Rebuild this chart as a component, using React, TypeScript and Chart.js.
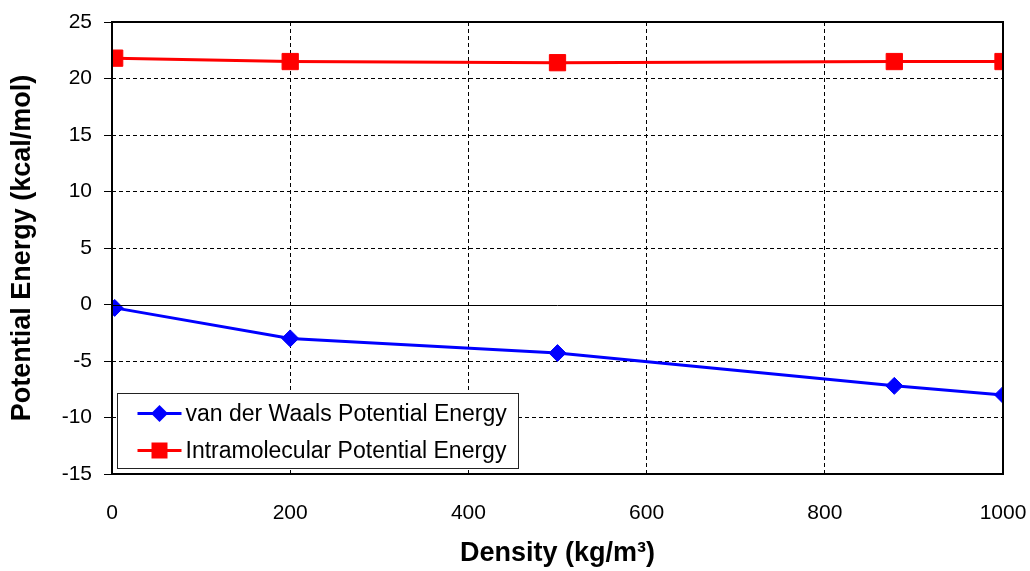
import React, { useEffect, useRef } from "react";
import { Chart, registerables } from "chart.js";

Chart.register(...registerables);

const densityVdw = [3, 200, 500, 878, 1000];
const vdwEnergy = [-0.3, -3.0, -4.3, -7.2, -8.0];
const densityIntra = [3, 200, 500, 878, 1000];
const intraEnergy = [21.8, 21.5, 21.4, 21.5, 21.5];
const seriesLabels = ["van der Waals Potential Energy", "Intramolecular Potential Energy"];
const xTitle = "Density (kg/m³)";
const yTitle = "Potential Energy (kcal/mol)";

const FONT = "'Liberation Sans', Arial, sans-serif";

const framePlugin = {
  id: "frameAndLegend",
  afterDatasetsDraw(chart: any) {
    const { ctx, chartArea: a, scales } = chart;
    ctx.save();
    const y0 = Math.round(scales.y.getPixelForValue(0)) + 0.5;
    ctx.strokeStyle = "#000";
    ctx.lineWidth = 1;
    ctx.setLineDash([]);
    ctx.beginPath();
    ctx.moveTo(a.left, y0);
    ctx.lineTo(a.right, y0);
    ctx.stroke();
    ctx.lineWidth = 2;
    ctx.strokeRect(a.left, a.top, a.right - a.left, a.bottom - a.top);
    ctx.restore();
  },
  afterDraw(chart: any) {
    const { ctx, chartArea: a } = chart;
    ctx.save();
    const bx = a.left + 5.5;
    const bw = 401;
    const bh = 75;
    const by = a.bottom - 6 - bh + 0.5;
    ctx.fillStyle = "#fff";
    ctx.fillRect(bx, by, bw, bh);
    ctx.strokeStyle = "#222";
    ctx.lineWidth = 1;
    ctx.strokeRect(bx, by, bw, bh);
    ctx.font = `23px ${FONT}`;
    ctx.textBaseline = "middle";
    ctx.textAlign = "left";
    chart.data.datasets.forEach((ds: any, i: number) => {
      const cy = by + 20 + i * 37;
      const x1 = bx + 20;
      const x2 = bx + 64;
      const cx = (x1 + x2) / 2;
      ctx.strokeStyle = ds.borderColor;
      ctx.lineWidth = 3;
      ctx.beginPath();
      ctx.moveTo(x1, cy);
      ctx.lineTo(x2, cy);
      ctx.stroke();
      ctx.fillStyle = ds.pointBackgroundColor;
      ctx.beginPath();
      if (ds.pointStyle === "rectRot") {
        const r = 8.5;
        ctx.moveTo(cx - r, cy);
        ctx.lineTo(cx, cy - r);
        ctx.lineTo(cx + r, cy);
        ctx.lineTo(cx, cy + r);
        ctx.closePath();
      } else {
        const s = 8;
        ctx.rect(cx - s, cy - s, 2 * s, 2 * s);
      }
      ctx.fill();
      ctx.fillStyle = "#000";
      ctx.fillText(ds.label, bx + 68, cy + 1);
    });
    ctx.restore();
  },
};

export default function App() {
  const ref = useRef<HTMLCanvasElement | null>(null);
  useEffect(() => {
    document.body.style.margin = "0";
    const canvas = ref.current!;
    const chart = new Chart(canvas, {
      type: "scatter",
      data: {
        datasets: [
          {
            label: seriesLabels[0],
            data: densityVdw.map((x, i) => ({ x, y: vdwEnergy[i] })),
            showLine: true,
            borderColor: "#0000ff",
            backgroundColor: "#0000ff",
            pointBackgroundColor: "#0000ff",
            pointBorderColor: "#0000ff",
            borderWidth: 3,
            pointStyle: "rectRot",
            pointRadius: 8.5,
            pointBorderWidth: 1,
          },
          {
            label: seriesLabels[1],
            data: densityIntra.map((x, i) => ({ x, y: intraEnergy[i] })),
            showLine: true,
            borderColor: "#ff0000",
            backgroundColor: "#ff0000",
            pointBackgroundColor: "#ff0000",
            pointBorderColor: "#ff0000",
            borderWidth: 3,
            pointStyle: "rect",
            pointRadius: 11.5,
            pointBorderWidth: 1,
          },
        ],
      },
      options: {
        responsive: false,
        animation: false,
        layout: { padding: { top: 22, right: 27, left: 0, bottom: 0 } },
        plugins: {
          legend: { display: false },
          tooltip: { enabled: false },
        },
        scales: {
          x: {
            type: "linear",
            min: 0,
            max: 1000,
            ticks: {
              stepSize: 200,
              color: "#000",
              font: { family: FONT, size: 21 },
              padding: 27,
              callback: (v: any) => String(v),
            },
            grid: { color: "#000", lineWidth: 1, drawTicks: false },
            border: { display: false, dash: [4, 3] },
            title: {
              display: true,
              text: xTitle,
              color: "#000",
              font: { family: FONT, size: 27, weight: "bold" },
              padding: { top: 0, bottom: 1 },
            },
            afterFit: (s: any) => {
              s.height = 97;
              s.paddingLeft = 0;
              s.paddingRight = 0;
            },
          },
          y: {
            min: -15,
            max: 25,
            ticks: {
              stepSize: 5,
              color: "#000",
              font: { family: FONT, size: 21 },
              padding: 12,
              callback: (v: any) => String(v),
            },
            grid: {
              color: (ctx: any) => (ctx.tick && ctx.tick.value === 0 ? "rgba(0,0,0,0)" : "#000"),
              lineWidth: 1,
              tickLength: 8,
              tickColor: "#000",
            },
            border: {
              display: false,
              dash: [4, 3],
            },
            title: {
              display: true,
              text: yTitle,
              color: "#000",
              font: { family: FONT, size: 27, weight: "bold" },
              padding: { top: 6, bottom: 0 },
            },
            afterFit: (s: any) => {
              s.width = 112;
              s.paddingTop = 0;
              s.paddingBottom = 0;
            },
          },
        },
      } as any,
      plugins: [framePlugin],
    });
    return () => chart.destroy();
  }, []);
  return (
    <div style={{ position: "fixed", left: 0, top: 0, width: 1030, height: 571, background: "#fff" }}>
      <canvas ref={ref} width={1030} height={571} style={{ display: "block", width: 1030, height: 571 }} />
    </div>
  );
}
